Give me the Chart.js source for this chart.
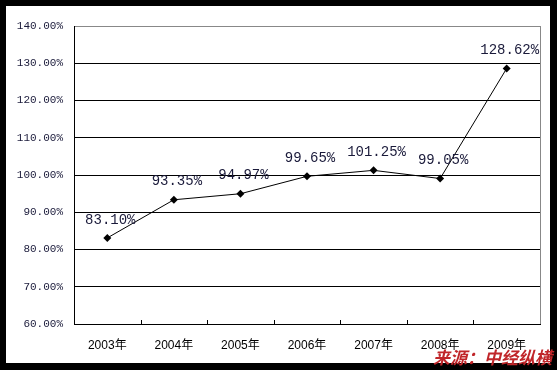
<!DOCTYPE html>
<html>
<head>
<meta charset="utf-8">
<script src="https://cdn.jsdelivr.net/npm/chart.js@4/dist/chart.umd.min.js"></script>
<style>
  html, body { margin: 0; padding: 0; background: #000; width: 557px; height: 370px; overflow: hidden; }
  #wrap { position: absolute; left: 6px; top: 6px; width: 544px; height: 357px; background: #fff; }
  #source { position: absolute; left: 433px; top: 346px; font-family: "Noto Sans CJK SC", sans-serif; font-weight: bold; font-size: 17px; color: #c0262a; font-style: italic; line-height: 22px; white-space: nowrap; }
</style>
</head>
<body>
<div id="wrap"><canvas id="c" width="544" height="357"></canvas></div>
<div id="source">来源：中经纵横</div>
<script>
const categories = ["2003年", "2004年", "2005年", "2006年", "2007年", "2008年", "2009年"];
const values = [83.10, 93.35, 94.97, 99.65, 101.25, 99.05, 128.62];
const yMin = 60, yMax = 140, yStep = 10;

const extras = {
  id: 'extras',
  afterDraw(chart) {
    const ctx = chart.ctx;
    const x = chart.scales.x;
    const a = chart.chartArea;
    ctx.save();
    // inward category boundary ticks
    ctx.strokeStyle = '#000';
    ctx.lineWidth = 1;
    for (let i = 0; i < categories.length - 1; i++) {
      const px = Math.round((x.getPixelForValue(i) + x.getPixelForValue(i + 1)) / 2) + 0.5;
      ctx.beginPath();
      ctx.moveTo(px, a.bottom);
      ctx.lineTo(px, a.bottom - 4);
      ctx.stroke();
    }
    // right border
    ctx.strokeStyle = '#888';
    ctx.beginPath();
    ctx.moveTo(Math.round(a.right) + 0.5, a.top);
    ctx.lineTo(Math.round(a.right) + 0.5, a.bottom);
    ctx.stroke();
    // data labels
    const meta = chart.getDatasetMeta(0);
    ctx.font = '14px "Liberation Mono", "DejaVu Sans Mono", monospace';
    ctx.fillStyle = '#1a1a3a';
    ctx.textAlign = 'center';
    ctx.textBaseline = 'middle';
    meta.data.forEach((pt, i) => {
      ctx.fillText(values[i].toFixed(2) + '%', pt.x + 3, pt.y - 18);
    });
    ctx.restore();
  }
};

new Chart(document.getElementById('c'), {
  type: 'line',
  data: {
    labels: categories,
    datasets: [{
      data: values,
      borderColor: '#000',
      borderWidth: 1,
      backgroundColor: '#000',
      pointStyle: 'rectRot',
      pointRadius: 4,
      pointBorderWidth: 0,
      pointBackgroundColor: '#000',
      tension: 0,
      fill: false
    }]
  },
  options: {
    responsive: false,
    animation: false,
    layout: { padding: { left: 0, top: 20, right: 10, bottom: 0 } },
    plugins: { legend: { display: false }, tooltip: { enabled: false } },
    scales: {
      x: {
        offset: true,
        grid: { display: false, drawTicks: false },
        border: { display: true, color: '#000', width: 1 },
        ticks: { color: '#000', padding: 14, font: { size: 12, family: 'Arial, "Liberation Sans", "Noto Sans CJK SC", sans-serif' } },
        afterFit(s) { s.height = 39; }
      },
      y: {
        min: yMin, max: yMax,
        grid: {
          drawTicks: false,
          color: (c) => c.tick && c.tick.value === yMax ? '#888' : '#000',
          lineWidth: 1
        },
        border: { display: true, color: '#000', width: 1 },
        ticks: {
          stepSize: yStep,
          padding: 11,
          color: '#1a1a3a',
          font: { size: 11, family: '"Liberation Mono", "DejaVu Sans Mono", monospace' },
          callback: (v) => v.toFixed(2) + '%'
        },
        afterFit(s) { s.width = 68; }
      }
    }
  },
  plugins: [extras]
});
</script>
</body>
</html>
